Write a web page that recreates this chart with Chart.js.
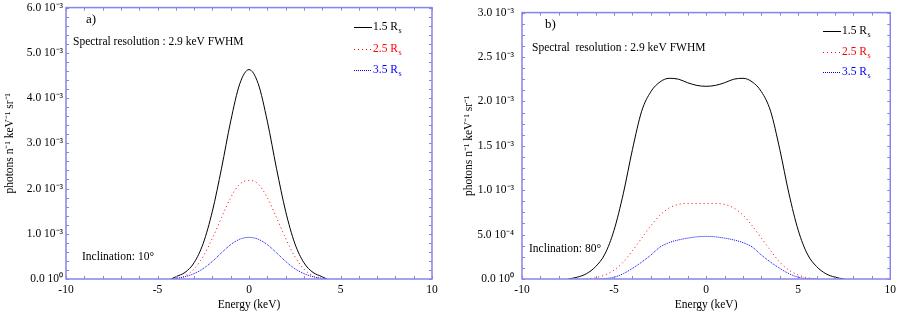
<!DOCTYPE html>
<html>
<head>
<meta charset="utf-8">
<script src="https://cdn.jsdelivr.net/npm/chart.js@4.4.1/dist/chart.umd.min.js"></script>
<style>
  html, body { margin: 0; padding: 0; background: #fff; }
  .panel { position: absolute; top: 0; width: 450px; height: 312px; }
  #panel-a { left: 0; }
  #panel-b { left: 450px; }
</style>
</head>
<body>
<div class="panel" id="panel-a"><canvas id="chart-a" width="450" height="312"></canvas></div>
<div class="panel" id="panel-b"><canvas id="chart-b" width="450" height="312"></canvas></div>
<script>
// valores de intensidade em unidades de 10^-3 photons n-1 keV-1 sr-1

// painel a) inclinacao 10 graus
const energyA = [-4.25, -4, -3.5, -3, -2.5, -2, -1.5, -1, -0.5, 0, 0.5, 1, 1.5, 2, 2.5, 3, 3.5, 4, 4.25];
const rs15A = [0, 0.05, 0.145, 0.36, 0.79, 1.50, 2.45, 3.49, 4.32, 4.63, 4.32, 3.49, 2.45, 1.50, 0.79, 0.36, 0.145, 0.05, 0];
const rs25A = [0, 0, 0.07, 0.22, 0.50, 0.90, 1.36, 1.80, 2.10, 2.18, 2.10, 1.80, 1.36, 0.90, 0.50, 0.22, 0.07, 0, 0];
const rs35A = [0, 0.015, 0.05, 0.12, 0.23, 0.39, 0.58, 0.76, 0.88, 0.92, 0.88, 0.76, 0.58, 0.39, 0.23, 0.12, 0.05, 0.015, 0];

// painel b) inclinacao 80 graus
const energyB = [-7.5, -7, -6.5, -6, -5.5, -5, -4.5, -4, -3.5, -3, -2.5, -2, -1.5, -1, -0.5, 0,
                 0.5, 1, 1.5, 2, 2.5, 3, 3.5, 4, 4.5, 5, 5.5, 6, 6.5, 7, 7.5];
const rs15B = [0, 0.02, 0.06, 0.14, 0.28, 0.55, 0.96, 1.46, 1.89, 2.11, 2.22, 2.26, 2.25, 2.21, 2.18, 2.17,
               2.18, 2.21, 2.25, 2.26, 2.22, 2.11, 1.89, 1.46, 0.96, 0.55, 0.28, 0.14, 0.06, 0.02, 0];
const rs25B = [null, null, 0, 0.015, 0.045, 0.10, 0.19, 0.32, 0.46, 0.60, 0.72, 0.80, 0.84, 0.85, 0.85, 0.85,
               0.85, 0.84, 0.80, 0.72, 0.60, 0.46, 0.32, 0.19, 0.10, 0.045, 0.015, 0, null, null, null];
const rs35B = [null, null, null, 0, 0.005, 0.02, 0.06, 0.12, 0.19, 0.27, 0.36, 0.41, 0.44, 0.46, 0.475, 0.48,
               0.475, 0.46, 0.44, 0.41, 0.36, 0.27, 0.19, 0.12, 0.06, 0.02, 0.005, 0, null, null, null];

const seriesLabels = ['1.5 R', '2.5 R', '3.5 R'];
const seriesSub = 's';

const xTickLabels = ['-10', '-5', '0', '5', '10'];
const yTickLabelsA = ['0.0 10⁰', '1.0 10⁻³', '2.0 10⁻³', '3.0 10⁻³', '4.0 10⁻³', '5.0 10⁻³', '6.0 10⁻³'];
const yTickLabelsB = ['0.0 10⁰', '5.0 10⁻⁴', '1.0 10⁻³', '1.5 10⁻³', '2.0 10⁻³', '2.5 10⁻³', '3.0 10⁻³'];

const SERIF = '"Liberation Serif", "Times New Roman", serif';
const FONT = { family: SERIF, size: 11.5 };
const FRAME = '#8585ec';

function line(ctx, x1, y1, x2, y2) {
    ctx.beginPath();
    ctx.moveTo(x1, y1);
    ctx.lineTo(x2, y2);
    ctx.stroke();
}

// moldura azul com marcas internas nos quatro lados, legenda e anotacoes
const decorPlugin = {
    id: 'decor',
    afterDatasetsDraw(chart) {
        const { ctx, chartArea: a, scales: { x, y } } = chart;
        ctx.save();
        ctx.strokeStyle = FRAME;
        ctx.lineWidth = 1;
        x.ticks.forEach(t => {
            const px = Math.round(x.getPixelForValue(t.value)) + 0.5;
            line(ctx, px, a.bottom, px, a.bottom - 3);
            line(ctx, px, a.top, px, a.top + 3);
        });
        y.ticks.forEach(t => {
            const py = Math.round(y.getPixelForValue(t.value)) + 0.5;
            line(ctx, a.left, py, a.left + 3, py);
            line(ctx, a.right, py, a.right - 3, py);
        });
        ctx.lineWidth = 1.5;
        ctx.strokeRect(a.left, a.top, a.right - a.left, a.bottom - a.top);
        ctx.restore();
    },
    afterDraw(chart, args, o) {
        const ctx = chart.ctx;
        ctx.save();
        ctx.textBaseline = 'middle';
        ctx.textAlign = 'left';
        ctx.fillStyle = '#000';
        ctx.font = `13px ${SERIF}`;
        ctx.fillText(o.letter, o.letterPos[0], o.letterPos[1]);
        ctx.font = `11.5px ${SERIF}`;
        ctx.fillText(o.resolution, o.resolutionPos[0], o.resolutionPos[1]);
        ctx.fillText(o.inclination, o.inclinationPos[0], o.inclinationPos[1]);

        chart.data.datasets.forEach((ds, i) => {
            const ly = o.legendY[i];
            ctx.strokeStyle = ds.borderColor;
            ctx.lineWidth = 1;
            ctx.setLineDash(ds.borderDash || []);
            line(ctx, o.legendX, ly + 0.5, o.legendX + 18, ly + 0.5);
            ctx.setLineDash([]);
            ctx.fillStyle = ds.borderColor;
            ctx.font = `11.5px ${SERIF}`;
            ctx.fillText(ds.label, o.legendX + 19, ly);
            const w = ctx.measureText(ds.label).width;
            ctx.font = `8px ${SERIF}`;
            ctx.fillText(seriesSub, o.legendX + 19 + w + 0.5, ly + 4);
        });
        ctx.restore();
    }
};

function toPoints(xs, ys) {
    return xs.map((e, i) => ({ x: e, y: ys[i] }));
}

function makeChart(id, cfg) {
    const styles = [
        { borderColor: '#000000', borderDash: [] },
        { borderColor: '#ff0000', borderDash: [1, 3] },
        { borderColor: '#0000ff', borderDash: [1, 1] }
    ];
    return new Chart(document.getElementById(id), {
        type: 'line',
        data: {
            datasets: cfg.series.map((s, i) => ({
                label: seriesLabels[i],
                data: toPoints(cfg.energy, s),
                borderColor: styles[i].borderColor,
                borderDash: styles[i].borderDash,
                borderWidth: 1,
                pointRadius: 0,
                fill: false,
                spanGaps: false,
                cubicInterpolationMode: 'monotone'
            }))
        },
        options: {
            responsive: false,
            animation: false,
            devicePixelRatio: 1,
            layout: { padding: cfg.padding },
            plugins: {
                legend: { display: false },
                tooltip: { enabled: false },
                decor: cfg.notes
            },
            scales: {
                x: {
                    type: 'linear',
                    min: -10,
                    max: 10,
                    grid: { display: false, drawTicks: false },
                    border: { display: false },
                    ticks: {
                        stepSize: 1,
                        autoSkip: false,
                        maxRotation: 0,
                        padding: 4,
                        color: '#000',
                        font: FONT,
                        callback: v => (v % 5 === 0 ? xTickLabels[(v + 10) / 5] : '')
                    },
                    title: {
                        display: true,
                        text: 'Energy (keV)',
                        color: '#000',
                        font: FONT,
                        padding: { top: 0, bottom: 0 }
                    },
                    afterFit: s => { s.height = 33; }
                },
                y: {
                    min: 0,
                    max: cfg.yMax,
                    grid: { display: false, drawTicks: false },
                    border: { display: false },
                    ticks: {
                        stepSize: cfg.yMinor,
                        autoSkip: false,
                        padding: cfg.yPad,
                        color: '#000',
                        font: { family: SERIF, size: 11.5, lineHeight: 0.8 },
                        callback: v => {
                            const k = Math.round(v / cfg.yMajor);
                            return Math.abs(v - k * cfg.yMajor) < 1e-6 ? cfg.yLabels[k] : '';
                        }
                    },
                    title: {
                        display: true,
                        text: 'photons n⁻¹ keV⁻¹ sr⁻¹',
                        color: '#000',
                        font: FONT,
                        padding: { top: cfg.titlePad, bottom: 0 }
                    },
                    afterFit: s => { s.width = cfg.yWidth; }
                }
            }
        },
        plugins: [decorPlugin]
    });
}

makeChart('chart-a', {
    energy: energyA,
    series: [rs15A, rs25A, rs35A],
    yMax: 6, yMinor: 0.2, yMajor: 1, yLabels: yTickLabelsA,
    yWidth: 66, yPad: 3, titlePad: 3,
    padding: { top: 6, right: 18, left: 0, bottom: 0 },
    notes: {
        letter: 'a)', letterPos: [86, 20],
        resolution: 'Spectral resolution : 2.9 keV FWHM', resolutionPos: [73, 42],
        inclination: 'Inclination: 10°', inclinationPos: [82, 257],
        legendX: 354, legendY: [27, 49, 70]
    }
});

makeChart('chart-b', {
    energy: energyB,
    series: [rs15B, rs25B, rs35B],
    yMax: 3, yMinor: 0.125, yMajor: 0.5, yLabels: yTickLabelsB,
    yWidth: 72, yPad: 8, titlePad: 12,
    padding: { top: 5, right: 8, left: 0, bottom: 0 },
    notes: {
        letter: 'b)', letterPos: [95, 25],
        resolution: 'Spectral  resolution : 2.9 keV FWHM', resolutionPos: [82, 48],
        inclination: 'Inclination: 80°', inclinationPos: [79, 249],
        legendX: 373, legendY: [31, 52, 72]
    }
});
</script>
</body>
</html>
